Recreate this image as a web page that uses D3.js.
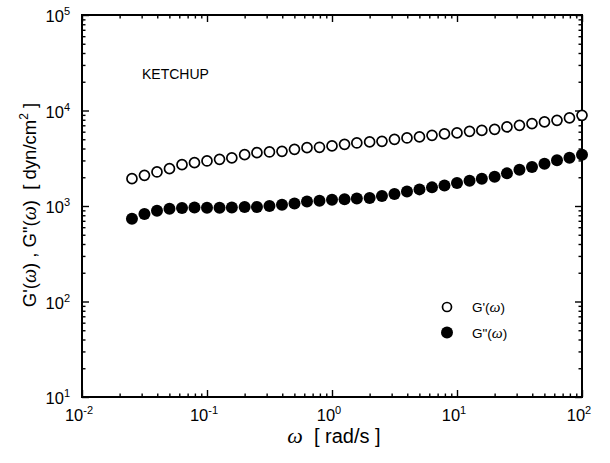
<!DOCTYPE html>
<html><head><meta charset="utf-8">
<script src="https://cdn.jsdelivr.net/npm/d3@7"></script>
<style>body{margin:0;background:#fff} svg{display:block} text{font-family:Arial,"Liberation Sans",sans-serif;fill:#000}</style>
</head><body><svg width="610" height="463"></svg>
<script>
// ---- data ----
const omega = [0.0251,0.0316,0.0398,0.0501,0.0631,0.0794,0.1,0.126,0.158,0.2,
  0.251,0.316,0.398,0.501,0.631,0.794,1,1.26,1.58,2,
  2.51,3.16,3.98,5.01,6.31,7.94,10,12.6,15.8,20,
  25.1,31.6,39.8,50.1,63.1,79.4,100];
const gPrime = [1932,2094,2272,2460,2710,2843,2963,3079,3186,3450,
  3620,3681,3735,3918,4080,4120,4255,4423,4571,4688,
  4753,4988,5160,5287,5497,5688,5823,6053,6185,6353,
  6729,6996,7290,7590,7892,8364,8905];
const gDoublePrime = [736,824,893,937,953,967,960,960,967,976,
  976,1000,1032,1065,1117,1137,1164,1178,1198,1216,
  1273,1336,1422,1493,1567,1643,1742,1841,1932,2029,
  2196,2401,2563,2775,3006,3208,3450];
const xMajorTicks = [0.01,0.1,1,10,100];
const xTickExps = ["-2","-1","0","1","2"];
const yMajorTicks = [10,100,1000,10000,100000];
const yTickExps = ["1","2","3","4","5"];
const sampleName = "KETCHUP";
const legendNames = ["G'(", 'G"('];

// ---- chart ----
const svg = d3.select("svg");
const L = 82, R = 582, T = 15, B = 397;
const x = d3.scaleLog().domain([0.01,100]).range([L,R]);
const y = d3.scaleLog().domain([10,1e5]).range([B,T]);
const isMajor = v => Math.abs(Math.log10(v) - Math.round(Math.log10(v))) < 1e-9;
const xMinor = x.ticks().filter(v => !isMajor(v));
const yMinor = y.ticks().filter(v => !isMajor(v));

function addAxis(gen, tx, ty, vals, size) {
  const g = svg.append("g").attr("transform", `translate(${tx},${ty})`)
    .call(gen.tickValues(vals).tickSizeInner(-size).tickSizeOuter(0).tickFormat(""));
  g.select(".domain").remove();
  g.selectAll("line").attr("stroke","#000").attr("stroke-width",1.4);
}
[[() => d3.axisBottom(x),0,B],[() => d3.axisTop(x),0,T]].forEach(([mk,tx,ty]) => {
  addAxis(mk(),tx,ty,xMajorTicks,7);
  addAxis(mk(),tx,ty,xMinor,3.5);
});
[[() => d3.axisLeft(y),L,0],[() => d3.axisRight(y),R,0]].forEach(([mk,tx,ty]) => {
  addAxis(mk(),tx,ty,yMajorTicks,7);
  addAxis(mk(),tx,ty,yMinor,3.5);
});

svg.append("rect").attr("x",L).attr("y",T).attr("width",R-L).attr("height",B-T)
  .attr("fill","none").attr("stroke","#000").attr("stroke-width",2);

// tick labels
xMajorTicks.forEach((v,i) => {
  const t = svg.append("text").attr("x", x(v)-3).attr("y", 421)
    .attr("text-anchor","middle").attr("font-size",16.5);
  t.append("tspan").text("10");
  t.append("tspan").attr("font-size",11).attr("dy",-7).text(xTickExps[i]);
});
yMajorTicks.forEach((v,i) => {
  const t = svg.append("text").attr("x", 70).attr("y", y(v)+7)
    .attr("text-anchor","end").attr("font-size",16.5);
  t.append("tspan").text("10");
  t.append("tspan").attr("font-size",11).attr("dy",-7).text(yTickExps[i]);
});

// axis titles
const omegaStyle = s => s.attr("font-family","'Liberation Serif','DejaVu Serif',serif").attr("font-style","italic");
const xt = svg.append("text").attr("x",334).attr("y",443).attr("text-anchor","middle")
  .attr("font-size",20).style("white-space","pre");
xt.append("tspan").call(omegaStyle).attr("font-size",22).text("ω");
xt.append("tspan").text("  [ rad/s ]");

const yt = svg.append("text").attr("transform","translate(36,205) rotate(-90)")
  .attr("text-anchor","middle").attr("font-size",18.5).style("white-space","pre");
yt.append("tspan").text("G'(");
yt.append("tspan").call(omegaStyle).attr("font-size",20).text("ω");
yt.append("tspan").text(") , G\"(");
yt.append("tspan").call(omegaStyle).attr("font-size",20).text("ω");
yt.append("tspan").text(")  [ dyn/cm");
yt.append("tspan").attr("font-size",12).attr("dy",-8).text("2");
yt.append("tspan").attr("dy",8).text(" ]");

svg.append("text").attr("x",142).attr("y",79).attr("font-size",14).text(sampleName);

// data
const pts = omega.map((w,i) => ({w, gp:gPrime[i], gpp:gDoublePrime[i]}));
svg.append("g").selectAll("circle").data(pts).join("circle")
  .attr("cx", d => x(d.w)).attr("cy", d => y(d.gpp)).attr("r",6).attr("fill","#000");
svg.append("g").selectAll("circle").data(pts).join("circle")
  .attr("cx", d => x(d.w)).attr("cy", d => y(d.gp)).attr("r",5)
  .attr("fill","#fff").attr("stroke","#000").attr("stroke-width",1.7);

// legend
const lg = svg.append("g");
[0,1].forEach(i => {
  const cy = 307 + i*25.5;
  const c = lg.append("circle").attr("cx",447).attr("cy",cy);
  if (i===0) c.attr("r",4.5).attr("fill","#fff").attr("stroke","#000").attr("stroke-width",1.7);
  else c.attr("r",6).attr("fill","#000");
  const t = lg.append("text").attr("x",472).attr("y",cy+5).attr("font-size",13.5);
  t.append("tspan").text(legendNames[i]);
  t.append("tspan").call(omegaStyle).attr("font-size",15.5).text("ω");
  t.append("tspan").text(")");
});
</script></body></html>
